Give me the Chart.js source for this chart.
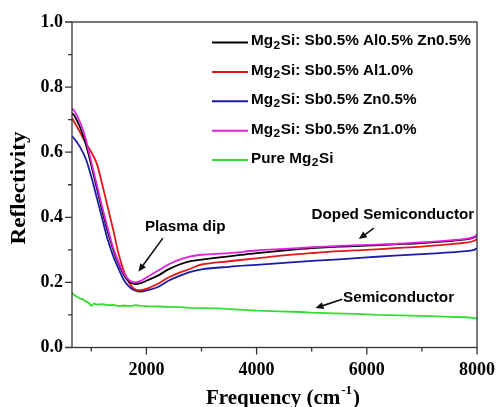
<!DOCTYPE html>
<html><head><meta charset="utf-8">
<script src="https://cdn.jsdelivr.net/npm/chart.js@4/dist/chart.umd.min.js"></script>
<style>html,body{margin:0;padding:0;background:#fff}#wrap{width:496px;height:407px}</style>
</head><body><div id="wrap"><canvas id="c" width="496" height="407"></canvas></div>
<script>
// ---- data ----
const freqDoped = [650,700,800,900,1000,1100,1200,1300,1400,1500,1600,1700,1800,1900,2000,2200,2400,2600,2800,3000,3500,4000,4500,5000,5500,6000,6500,7000,7500,7800,7950,8000];
const reflAlZn  = [0.720,0.710,0.675,0.625,0.560,0.490,0.420,0.355,0.300,0.255,0.220,0.200,0.195,0.198,0.205,0.220,0.240,0.255,0.265,0.270,0.280,0.290,0.298,0.305,0.310,0.313,0.317,0.321,0.327,0.332,0.338,0.345];
const reflAl    = [0.705,0.690,0.660,0.628,0.600,0.565,0.500,0.430,0.360,0.285,0.230,0.195,0.178,0.176,0.180,0.195,0.215,0.230,0.242,0.255,0.265,0.274,0.283,0.290,0.296,0.300,0.305,0.310,0.317,0.322,0.328,0.333];
const reflZn05  = [0.649,0.640,0.615,0.580,0.525,0.460,0.395,0.330,0.280,0.240,0.205,0.185,0.175,0.172,0.175,0.185,0.205,0.220,0.232,0.240,0.248,0.254,0.260,0.266,0.271,0.277,0.282,0.287,0.292,0.296,0.300,0.305];
const reflZn10  = [0.735,0.725,0.690,0.640,0.570,0.500,0.430,0.365,0.305,0.260,0.225,0.205,0.200,0.205,0.215,0.235,0.255,0.270,0.280,0.285,0.290,0.298,0.303,0.308,0.312,0.315,0.318,0.323,0.329,0.334,0.340,0.347];
const freqPure  = [650,700,750,800,850,900,950,1000,1050,1100,1200,1300,1400,1500,1600,1700,1800,1900,2000,2200,2400,2600,2800,3000,3300,3600,4000,4400,4800,5000,5400,5800,6200,6600,7000,7400,7800,8000];
const reflPure  = [0.168,0.160,0.155,0.150,0.148,0.141,0.138,0.128,0.135,0.132,0.133,0.130,0.131,0.127,0.129,0.127,0.130,0.128,0.127,0.126,0.125,0.124,0.122,0.121,0.120,0.117,0.113,0.111,0.109,0.107,0.105,0.103,0.100,0.099,0.097,0.095,0.093,0.089];

const seriesLabels = ["Mg₂Si: Sb0.5% Al0.5% Zn0.5%","Mg₂Si: Sb0.5% Al1.0%","Mg₂Si: Sb0.5% Zn0.5%","Mg₂Si: Sb0.5% Zn1.0%","Pure Mg₂Si"];
const seriesColors = ["#000000","#e01818","#1c1ca8","#dd22dd","#33dd33"];

const xMajorTicks = [2000,4000,6000,8000];
const xMinorTicks = [1000,3000,5000,7000];
const yMajorTicks = [0,0.2,0.4,0.6,0.8,1.0];
const yMinorTicks = [0.1,0.3,0.5,0.7,0.9];

const annotations = [
  {text:"Plasma dip",          tx:2704, ty:0.369, from:[2299,0.336], to:[1855,0.233]},
  {text:"Doped Semiconductor", tx:6473, ty:0.406, from:[6128,0.367], to:[5855,0.333]},
  {text:"Semiconductor",       tx:6577, ty:0.153, from:[5553,0.148], to:[5068,0.121]}
];

function pts(xs, ys){ return xs.map((x,i)=>({x:x,y:ys[i]})); }

const seriesData = [
  pts(freqDoped, reflAlZn),
  pts(freqDoped, reflAl),
  pts(freqDoped, reflZn05),
  pts(freqDoped, reflZn10),
  pts(freqPure, reflPure)
];
const drawOrder = [1,2,3,0,4];

const SANS = '"Liberation Sans", Arial, sans-serif';
const SERIF = '"Liberation Serif", "Times New Roman", serif';
const SX = 1.09; // horizontal widening of the sans labels

function drawSubText(ctx, str, x, y, size){
  ctx.save();
  ctx.translate(x, y); ctx.scale(SX, 1);
  const parts = str.split('₂');
  let cx = 0;
  for (let i=0;i<parts.length;i++){
    ctx.font = 'bold '+size+'px '+SANS;
    ctx.fillText(parts[i], cx, 0);
    cx += ctx.measureText(parts[i]).width;
    if (i < parts.length-1){
      ctx.font = 'bold '+Math.round(size*0.8)+'px '+SANS;
      ctx.fillText('2', cx+0.5, 4);
      cx += ctx.measureText('2').width+1;
    }
  }
  ctx.restore();
}

function wideText(ctx, str, x, y){
  ctx.save(); ctx.translate(x,y); ctx.scale(SX,1); ctx.fillText(str,0,0); ctx.restore();
}

function arrow(ctx, x1,y1,x2,y2){
  const a = Math.atan2(y2-y1, x2-x1);
  const hl = 8, hw = 3.5;
  ctx.beginPath();
  ctx.moveTo(x1,y1);
  ctx.lineTo(x2 - Math.cos(a)*hl*0.8, y2 - Math.sin(a)*hl*0.8);
  ctx.lineWidth = 1.6; ctx.strokeStyle = '#111'; ctx.stroke();
  ctx.beginPath();
  ctx.moveTo(x2,y2);
  ctx.lineTo(x2 - Math.cos(a)*hl - Math.sin(a)*hw, y2 - Math.sin(a)*hl + Math.cos(a)*hw);
  ctx.lineTo(x2 - Math.cos(a)*hl + Math.sin(a)*hw, y2 - Math.sin(a)*hl - Math.cos(a)*hw);
  ctx.closePath(); ctx.fillStyle = '#111'; ctx.fill();
}

const decor = {
  id:'decor',
  afterDatasetsDraw(chart){
    const ctx = chart.ctx, a = chart.chartArea;
    const xs = chart.scales.x, ys = chart.scales.y;
    ctx.save();
    ctx.strokeStyle = '#333'; ctx.lineWidth = 1.3;
    ctx.strokeRect(a.left, a.top, a.right-a.left, a.bottom-a.top);
    ctx.beginPath();
    xMajorTicks.forEach(v=>{const p=xs.getPixelForValue(v); ctx.moveTo(p,a.bottom); ctx.lineTo(p,a.bottom+7);});
    xMinorTicks.forEach(v=>{const p=xs.getPixelForValue(v); ctx.moveTo(p,a.bottom); ctx.lineTo(p,a.bottom+4);});
    yMajorTicks.forEach(v=>{const p=ys.getPixelForValue(v); ctx.moveTo(a.left,p); ctx.lineTo(a.left-7,p);});
    yMinorTicks.forEach(v=>{const p=ys.getPixelForValue(v); ctx.moveTo(a.left,p); ctx.lineTo(a.left-4,p);});
    ctx.stroke();

    ctx.textBaseline = 'middle'; ctx.textAlign = 'left'; ctx.fillStyle = '#000';
    const lx0 = a.left + 140, lx1 = a.left + 176, tx = a.left + 179;
    seriesLabels.forEach((lab,i)=>{
      const y = a.top + 20.5 + i*29.4;
      ctx.beginPath(); ctx.moveTo(lx0,y); ctx.lineTo(lx1,y);
      ctx.strokeStyle = seriesColors[i]; ctx.lineWidth = 2; ctx.stroke();
      ctx.fillStyle = '#000';
      drawSubText(ctx, lab, tx, y-1, 14);
    });

    annotations.forEach(an=>{
      ctx.font = 'bold 14px '+SANS; ctx.textAlign='center'; ctx.textBaseline='middle'; ctx.fillStyle='#000';
      wideText(ctx, an.text, xs.getPixelForValue(an.tx), ys.getPixelForValue(an.ty));
      arrow(ctx, xs.getPixelForValue(an.from[0]), ys.getPixelForValue(an.from[1]),
                 xs.getPixelForValue(an.to[0]), ys.getPixelForValue(an.to[1]));
    });

    ctx.save();
    ctx.translate(20, 188);
    ctx.rotate(-Math.PI/2);
    ctx.scale(1.1, 1);
    ctx.font = 'bold 21px '+SERIF; ctx.textAlign='center'; ctx.textBaseline='middle'; ctx.fillStyle='#000';
    ctx.fillText('Reflectivity', 0, 0);
    ctx.restore();

    ctx.fillStyle = '#000'; ctx.textAlign='left'; ctx.textBaseline='alphabetic';
    const t1 = 'Frequency (cm', sup = '-1', t2 = ')';
    ctx.font = 'bold 21px '+SERIF; const w1 = ctx.measureText(t1).width, w3 = ctx.measureText(t2).width;
    ctx.font = 'bold 13px '+SERIF; const w2 = ctx.measureText(sup).width;
    const total = w1 + w2 + 2 + w3;
    const cx = 283;
    let x0 = cx - total/2; const by = 404;
    ctx.font = 'bold 21px '+SERIF; ctx.fillText(t1, x0, by);
    ctx.font = 'bold 13px '+SERIF; ctx.fillText(sup, x0 + w1 + 1, by - 10);
    ctx.font = 'bold 21px '+SERIF; ctx.fillText(t2, x0 + w1 + w2 + 2, by);
    ctx.restore();
  }
};

new Chart(document.getElementById('c'), {
  type:'line',
  data:{
    datasets: seriesData.map((d,i)=>({
      label: seriesLabels[i], data: d,
      borderColor: seriesColors[i], backgroundColor: seriesColors[i],
      borderWidth: 1.8, pointRadius: 0, tension: i===4 ? 0 : 0.35,
      order: drawOrder[i], fill:false
    }))
  },
  options:{
    responsive:false, animation:false, devicePixelRatio:1,
    layout:{padding:{left:0, top:22, right:19, bottom:0}},
    plugins:{legend:{display:false}, tooltip:{enabled:false}},
    scales:{
      x:{
        type:'linear', min:650, max:8000,
        grid:{display:false, drawTicks:false}, border:{display:false},
        afterBuildTicks:(s)=>{ s.ticks = xMajorTicks.map(v=>({value:v})); },
        ticks:{padding:12, color:'#000', font:{family:SERIF, size:18, weight:'bold'}, maxRotation:0,
               callback:(v)=>String(v)},
        afterFit:(s)=>{ s.height = 59.5; s.paddingRight = 0; s.paddingLeft = 0; }
      },
      y:{
        type:'linear', min:0, max:1.0,
        grid:{display:false, drawTicks:false}, border:{display:false},
        afterBuildTicks:(s)=>{ s.ticks = yMajorTicks.map(v=>({value:v})); },
        ticks:{padding:9, color:'#000', font:{family:SERIF, size:18, weight:'bold'},
               callback:(v)=>Number(v).toFixed(1)},
        afterFit:(s)=>{ s.width = 72; s.paddingTop = 0; s.paddingBottom = 0; }
      }
    }
  },
  plugins:[decor]
});
</script></body></html>
